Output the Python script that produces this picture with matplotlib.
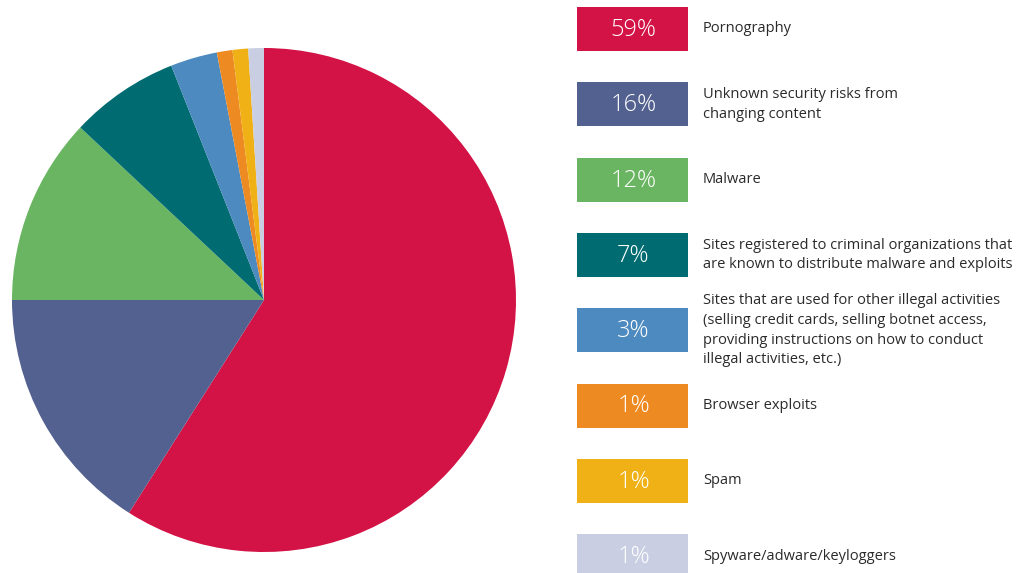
import matplotlib.pyplot as plt
from matplotlib.patches import Rectangle

# Category shares (percent)
categories = [
    "Pornography",
    "Unknown security risks from\nchanging content",
    "Malware",
    "Sites registered to criminal organizations that\nare known to distribute malware and exploits",
    "Sites that are used for other illegal activities\n(selling credit cards, selling botnet access,\nproviding instructions on how to conduct\nillegal activities, etc.)",
    "Browser exploits",
    "Spam",
    "Spyware/adware/keyloggers",
]
shares = [59, 16, 12, 7, 3, 1, 1, 1]
colors = ["#D31245", "#536190", "#6AB562", "#006B70", "#4C8AC0",
          "#EE8A22", "#EFB116", "#C9CEE2"]

W, H = 1036, 573
fig = plt.figure(figsize=(W / 100, H / 100), dpi=100)
plt.rcParams["font.family"] = ["Open Sans", "DejaVu Sans"]

# ----------------------------
# Pie
# ----------------------------
cx, cy, r = 264, 300, 252
ax_pie = fig.add_axes([(cx - r) / W, (H - cy - r) / H, 2 * r / W, 2 * r / H])
ax_pie.pie(shares, colors=colors, startangle=90, counterclock=False,
           radius=1.0, wedgeprops=dict(linewidth=0))
ax_pie.set_xlim(-1, 1)
ax_pie.set_ylim(-1, 1)
ax_pie.set_aspect("equal")
ax_pie.axis("off")

# ----------------------------
# Legend drawn in pixel space
# ----------------------------
ax_leg = fig.add_axes([0, 0, 1, 1])
ax_leg.set_xlim(0, W)
ax_leg.set_ylim(H, 0)
ax_leg.axis("off")

box_x, box_w, box_h = 577, 111, 44
top0, step = 7, 75.3

for i, (label, val, col) in enumerate(zip(categories, shares, colors)):
    top = top0 + i * step
    ax_leg.add_patch(Rectangle((box_x, top), box_w, box_h, facecolor=col,
                               edgecolor="none"))
    ax_leg.text(box_x + box_w / 2 + 1, top + box_h / 2 + 1, f"{val}%",
                color="white", fontsize=17, fontweight="light",
                ha="center", va="center")
    ax_leg.text(703, top + box_h / 2, label, color="#2a2a2a",
                fontsize=10.5, ha="left", va="center", linespacing=1.42)

fig.savefig("out.png", dpi=100)
